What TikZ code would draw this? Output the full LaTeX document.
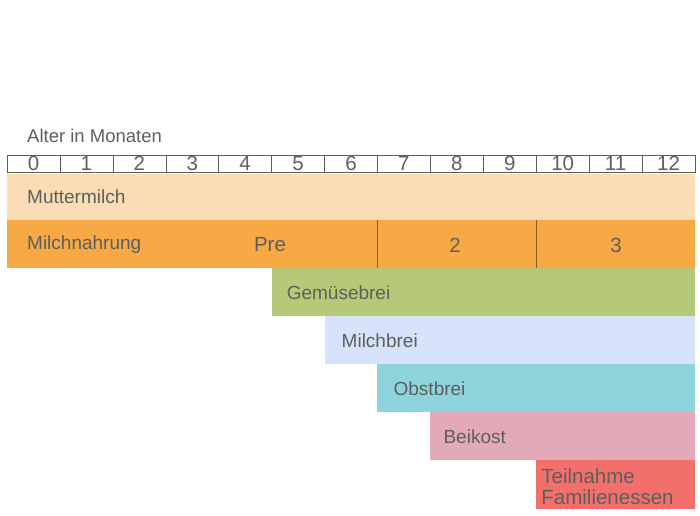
\documentclass[tikz,border=0pt]{standalone}
\usepackage{fontspec}
\setmainfont{Liberation Sans}
\definecolor{txtgray}{HTML}{5E5E5E}
\definecolor{milk}{HTML}{FBDDB5}
\definecolor{formula}{HTML}{F6A945}
\definecolor{veggie}{HTML}{B6C978}
\definecolor{milkmash}{HTML}{D6E3FA}
\definecolor{fruit}{HTML}{8ED4DD}
\definecolor{beikostcol}{HTML}{E3A9B9}
\definecolor{tablecol}{HTML}{F36F6B}

\begin{document}
\begin{tikzpicture}[x=1pt, y=-1pt,
  lbl/.style={anchor=west, inner sep=0pt, text=txtgray, font=\fontsize{19}{22}\selectfont},
  num/.style={inner sep=0pt, text=txtgray, font=\fontsize{20.5}{22}\selectfont}]

\useasboundingbox (0,0) rectangle (700,515);

% Dimensions of the time axis
\def\Xo{7}     % left edge
\def\Wm{52.92} % one month
\def\Xe{695}   % right edge

% Header
\node[lbl, font=\fontsize{18.5}{22}\selectfont] (alter) at (\Xo+20,136) {Alter in Monaten};

% Month scale
\draw[txtgray] (\Xo,155) rectangle (\Xe,172);
\foreach \m in {1,...,12}
    \draw[txtgray] (\Xo+\m*\Wm,155) -- (\Xo+\m*\Wm,172);
\foreach \m in {0,...,12}
    \node[num] (m\m) at (\Xo+\m*\Wm+0.5*\Wm,163.5) {\m};

% Muttermilch
\fill[milk] (\Xo,174) rectangle (\Xe,220);
\node[lbl] (muttermilch) at (\Xo+20,197) {Muttermilch};

% Milchnahrung
\fill[formula] (\Xo,220) rectangle (\Xe,268);
\draw[black!45!formula] (\Xo+7*\Wm,220) -- (\Xo+7*\Wm,268);
\draw[black!45!formula] (\Xo+10*\Wm,220) -- (\Xo+10*\Wm,268);
\node[lbl] (milchnahrung) at (\Xo+20,245) {Milchnahrung};
\node[num] (pre) at (270,245) {Pre};
\node[num] (zwei) at (455,245) {2};
\node[num] (drei) at (616,245) {3};

% Beikost bands
\fill[veggie] (\Xo+5*\Wm,268) rectangle (\Xe,316);
\node[lbl] (gemuese) at (\Xo+5*\Wm+15,293) {Gemüsebrei};

\fill[milkmash] (\Xo+6*\Wm,316) rectangle (\Xe,364);
\node[lbl] (milchbrei) at (\Xo+6*\Wm+17,341) {Milchbrei};

\fill[fruit] (\Xo+7*\Wm,364) rectangle (\Xe,412);
\node[lbl] (obstbrei) at (\Xo+7*\Wm+16,389) {Obstbrei};

\fill[beikostcol] (\Xo+8*\Wm,412) rectangle (\Xe,460);
\node[lbl] (beikost) at (\Xo+8*\Wm+13,437) {Beikost};

\fill[tablecol] (\Xo+10*\Wm,460) rectangle (\Xe,509);
\node[lbl, align=left, font=\fontsize{20.5}{21}\selectfont] (familie) at (\Xo+10*\Wm+5,486.5) {Teilnahme\\Familienessen};

\end{tikzpicture}
\end{document}
